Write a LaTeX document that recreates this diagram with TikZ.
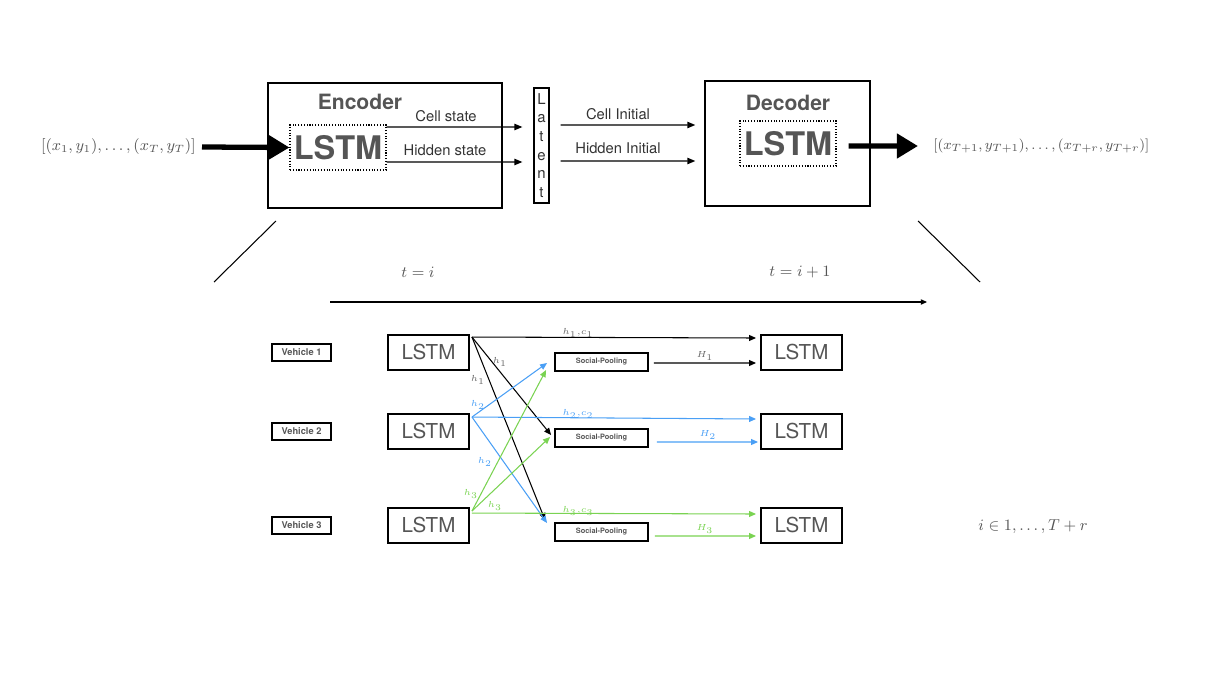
\documentclass[tikz,border=0pt]{standalone}
\usepackage{fontspec}
\setsansfont{TeX Gyre Heros}
\usetikzlibrary{arrows.meta}
\definecolor{txtgray}{HTML}{555555}
\definecolor{lblgray}{HTML}{666666}
\definecolor{bblue}{HTML}{4A9FF5}
\definecolor{bgreen}{HTML}{7AD352}
\tikzset{
  bigbox/.style={draw, line width=0.8pt, inner sep=0},
  dotbox/.style={draw, densely dotted, line width=0.6pt, inner sep=0, minimum width=1.92cm, minimum height=0.9cm,
    font=\sffamily\bfseries\fontsize{18.5}{20}\selectfont, text=txtgray},
  title/.style={font=\sffamily\bfseries\fontsize{12}{14}\selectfont, text=txtgray},
  lbl/.style={font=\sffamily\fontsize{8.4}{10}\selectfont, text=black!80},
  sarrow/.style={-{Triangle[length=4.5pt,width=3.6pt]}, line width=0.7pt},
  tarrow/.style={-{Triangle[length=12pt,width=13.5pt]}, line width=3pt},
  mtext/.style={font=\fontsize{8.7}{10}\selectfont, text=txtgray},
  lstmbox/.style={draw, line width=1.1pt, minimum width=1.62cm, minimum height=0.7cm, inner sep=0,
    font=\sffamily\fontsize{11.7}{13}\selectfont, text=txtgray},
  vehbox/.style={draw, line width=1.1pt, minimum width=1.18cm, minimum height=0.34cm, inner sep=0,
    font=\sffamily\bfseries\fontsize{5.3}{6}\selectfont, text=txtgray},
  spbox/.style={draw, line width=1.1pt, minimum width=1.86cm, minimum height=0.36cm, inner sep=0,
    font=\sffamily\bfseries\fontsize{4.2}{5}\selectfont, text=txtgray},
  hl/.style={font=\fontsize{5.5}{6}\selectfont, inner sep=0.5pt},
  barrow/.style={-{Triangle[length=4pt,width=3.4pt]}, line width=0.6pt},
}
\begin{document}
\begin{tikzpicture}[x=0.02cm,y=-0.02cm]
\useasboundingbox (0,0) rectangle (1206,679);

% ---------- top ----------
\node[bigbox, minimum width=4.68cm, minimum height=2.5cm] (enc) at (385,145.5) {};
\node[title] (enct) at (360,102) {Encoder};
\node[dotbox] (encl) at (338,147.5) {LSTM};
\node[draw, line width=0.7pt, minimum width=0.3cm, minimum height=2.3cm, inner sep=0, align=center,
  font=\sffamily\fontsize{8.5}{10.6}\selectfont, text=black!80] (lat) at (541.5,145.5) {L\\a\\t\\e\\n\\t};
\node[bigbox, minimum width=3.3cm, minimum height=2.5cm] (dec) at (787.5,143.5) {};
\node[title] (dect) at (788,103) {Decoder};
\node[dotbox] (decl) at (788,143.5) {LSTM};

\node[mtext, anchor=east, inner sep=0] (in) at (196,147) {$[(x_1,y_1),\dots,(x_T,y_T)]$};
\node[mtext, font=\fontsize{8.3}{10}\selectfont, anchor=west, inner sep=0] (out) at (933,146) {$[(x_{T+1},y_{T+1}),\dots,(x_{T+r},y_{T+r})]$};

\draw[tarrow] ([xshift=0.12cm]in.east) -- (encl.west);
\draw[tarrow] ([xshift=0.24cm,yshift=-0.05cm]decl.east) -- ([xshift=-0.3cm]out.west);

\draw[sarrow] ([yshift=0.41cm]encl.east) -- ([xshift=-0.22cm,yshift=0.37cm]lat.west);
\draw[sarrow] ([yshift=-0.29cm]encl.east) -- ([xshift=-0.22cm,yshift=-0.33cm]lat.west);
\draw[sarrow] ([xshift=0.22cm,yshift=0.41cm]lat.east) -- ([xshift=-0.18cm,yshift=0.37cm]dec.west);
\draw[sarrow] ([xshift=0.22cm,yshift=-0.31cm]lat.east) -- ([xshift=-0.18cm,yshift=-0.35cm]dec.west);

\node[lbl] (cs) at (446,116) {Cell state};
\node[lbl] (hs) at (445,150) {Hidden state};
\node[lbl] (ci) at (618,114) {Cell Initial};
\node[lbl] (hi) at (618,148) {Hidden Initial};

% zoom lines
\coordinate (da) at (276,221); \coordinate (db) at (214,282);
\coordinate (dc) at (918,221); \coordinate (dd) at (980,282);
\draw[line width=0.6pt] (da) -- (db);
\draw[line width=0.6pt] (dc) -- (dd);

% time
\node[mtext, font=\fontsize{9}{10}\selectfont] (ti) at (418,272) {$t=i$};
\node[mtext, font=\fontsize{9}{10}\selectfont] (ti1) at (800,272) {$t=i+1$};
\coordinate (t0) at (330,302); \coordinate (t1) at (927,302);
\draw[line width=0.6pt, -{Triangle[length=3.5pt,width=3pt]}] (t0) -- (t1);

% ---------- bottom ----------
\node[vehbox] (v1) at (301.5,352.5) {Vehicle 1};
\node[vehbox] (v2) at (301.5,431.5) {Vehicle 2};
\node[vehbox] (v3) at (301.5,525.5) {Vehicle 3};

\node[lstmbox] (la1) at (428.5,352.5) {LSTM};
\node[lstmbox] (la2) at (428.5,431.5) {LSTM};
\node[lstmbox] (la3) at (428.5,525.5) {LSTM};

\node[spbox] (sp1) at (601.5,362) {Social-Pooling};
\node[spbox] (sp2) at (601.5,438) {Social-Pooling};
\node[spbox] (sp3) at (601.5,532) {Social-Pooling};

\node[lstmbox] (lb1) at (801.5,352.5) {LSTM};
\node[lstmbox] (lb2) at (801.5,431.5) {LSTM};
\node[lstmbox] (lb3) at (801.5,525.5) {LSTM};

\node[mtext, font=\fontsize{9}{10}\selectfont] (irange) at (1033,527) {$i\in 1,\dots,T+r$};

% black (vehicle 1)
\draw[barrow, black] ([xshift=0.04cm,yshift=-0.06cm]la1.north east) -- ([xshift=-0.08cm,yshift=0.29cm]lb1.west);
\draw[barrow, black] ([xshift=0.04cm,yshift=-0.06cm]la1.north east) -- ([xshift=-0.06cm,yshift=0.06cm]sp2.west);
\draw[barrow, black] ([xshift=0.04cm,yshift=-0.06cm]la1.north east) -- ([xshift=-0.18cm,yshift=0.04cm]sp3.north west);
\draw[barrow, black] ([xshift=0.1cm,yshift=-0.02cm]sp1.east) -- ([xshift=-0.08cm,yshift=-0.21cm]lb1.west);

% blue (vehicle 2)
\draw[barrow, bblue] ([xshift=0.04cm,yshift=-0.08cm]la2.north east) -- ([xshift=-0.08cm,yshift=0.25cm]lb2.west);
\draw[barrow, bblue] ([xshift=0.04cm,yshift=-0.08cm]la2.north east) -- ([xshift=-0.14cm,yshift=-0.02cm]sp1.west);
\draw[barrow, bblue] ([xshift=0.04cm,yshift=-0.08cm]la2.north east) -- ([xshift=-0.14cm,yshift=-0.02cm]sp3.north west);
\draw[barrow, bblue] ([xshift=0.16cm,yshift=-0.08cm]sp2.east) -- ([xshift=-0.04cm,yshift=-0.21cm]lb2.west);

% green (vehicle 3)
\draw[barrow, bgreen] ([xshift=0.04cm,yshift=-0.12cm]la3.north east) -- ([xshift=-0.08cm,yshift=0.23cm]lb3.west);
\draw[barrow, bgreen] ([xshift=0.04cm,yshift=-0.08cm]la3.north east) -- ([xshift=-0.16cm,yshift=-0.16cm]sp1.west);
\draw[barrow, bgreen] ([xshift=0.04cm,yshift=-0.08cm]la3.north east) -- ([xshift=-0.08cm,yshift=0.02cm]sp2.west);
\draw[barrow, bgreen] ([xshift=0.12cm,yshift=-0.08cm]sp3.east) -- ([xshift=-0.08cm,yshift=-0.21cm]lb3.west);

% labels
\node[hl, text=lblgray] (hc1) at (578,333) {$h_1{,}c_1$};
\node[hl, text=bblue] (hc2) at (578,414) {$h_2{,}c_2$};
\node[hl, text=bgreen] (hc3) at (578,511) {$h_3{,}c_3$};
\node[hl, text=lblgray] (H1) at (705,356) {$H_1$};
\node[hl, text=bblue] (H2) at (708,435) {$H_2$};
\node[hl, text=bgreen] (H3) at (705,529) {$H_3$};
\node[hl, text=lblgray] (h1a) at (500,362) {$h_1$};
\node[hl, text=lblgray] (h1b) at (478,380) {$h_1$};
\node[hl, text=bblue] (h2a) at (478,405) {$h_2$};
\node[hl, text=bblue] (h2b) at (485,462) {$h_2$};
\node[hl, text=bgreen] (h3a) at (471,494) {$h_3$};
\node[hl, text=bgreen] (h3b) at (495,506) {$h_3$};
\end{tikzpicture}
\end{document}
